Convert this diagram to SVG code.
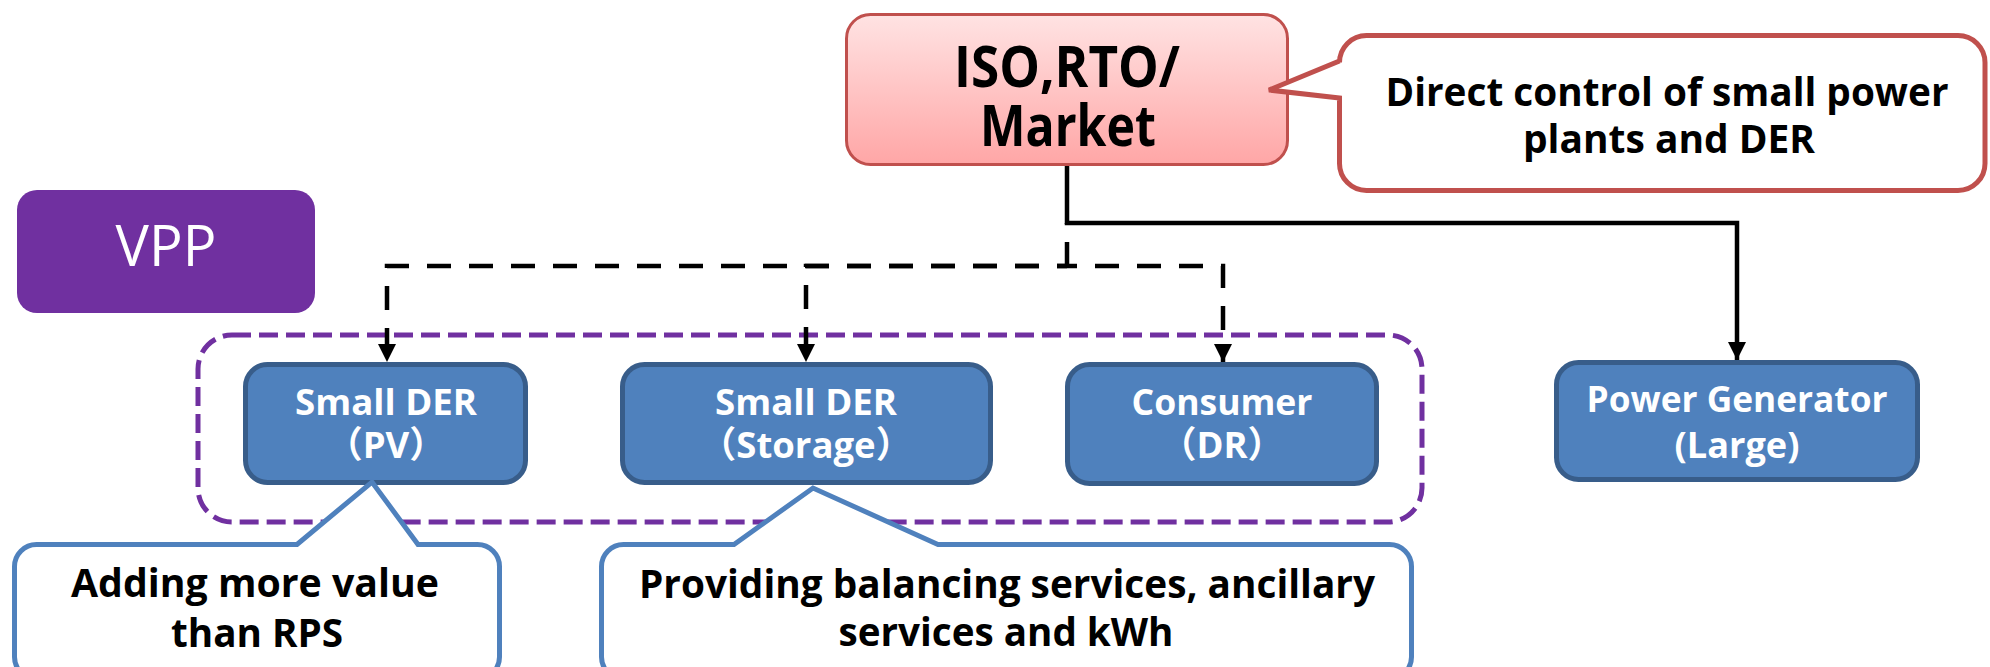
<svg xmlns="http://www.w3.org/2000/svg" width="1990" height="667" viewBox="0 0 1990 667">
  <defs>
    <linearGradient id="pinkFill" x1="0" y1="0" x2="0" y2="1">
      <stop offset="0" stop-color="#FFE3E3"/>
      <stop offset="1" stop-color="#FFA6A6"/>
    </linearGradient>
    <marker id="arrow" markerUnits="userSpaceOnUse" markerWidth="18" markerHeight="18" refX="16" refY="8" orient="auto" viewBox="0 0 16 16">
      <path d="M0,0 L16,8 L0,16 Z" fill="#000"/>
    </marker>
    <style>
      .node { fill: #4F81BD; stroke: #385D8A; stroke-width: 5; }
      .nodeText { font-family: "Open Sans", "Noto Sans", "Noto Sans CJK KR", sans-serif; font-weight: 700; font-size: 36.5px; fill: #FFFFFF; text-anchor: middle; }
      .calloutText { font-family: "Open Sans", "Noto Sans", "Noto Sans CJK KR", sans-serif; font-weight: 700; font-size: 39px; fill: #000000; text-anchor: middle; }
      .isoText { font-family: "Open Sans", "Noto Sans", sans-serif; font-weight: 700; font-size: 58px; fill: #000000; text-anchor: middle; }
      .blueCallout { fill: #FFFFFF; stroke: #4F81BD; stroke-width: 5; stroke-linejoin: miter; }
      .redCallout { fill: #FFFFFF; stroke: #C0504D; stroke-width: 5; stroke-linejoin: miter; }
      .solid { fill: none; stroke: #000; stroke-width: 4.5; }
      .dashed { fill: none; stroke: #000; stroke-width: 4.5; stroke-dasharray: 24 18; stroke-dashoffset: 14; }
    </style>
  </defs>

  <rect width="1990" height="667" fill="#FFFFFF"/>

  <!-- VPP label -->
  <g id="vpp">
    <rect x="17" y="190" width="298" height="123" rx="20" fill="#7030A0"/>
    <text x="166" y="266" font-family="'Open Sans', 'Noto Sans', sans-serif" font-size="56" fill="#FFFFFF" text-anchor="middle">VPP</text>
  </g>

  <!-- dashed boundary around the VPP resources -->
  <g id="vpp-group">
    <rect x="198" y="335" width="1224" height="187" rx="34" fill="none" stroke="#7030A0" stroke-width="5" stroke-dasharray="19 8"/>
  </g>

  <!-- connectors -->
  <g id="connectors">
    <path class="solid" d="M1067,166 V223 H1737 V360" marker-end="url(#arrow)"/>
    <path class="dashed" d="M1067,266 V223" style="stroke-dashoffset:0"/>
    <path class="dashed" d="M1067,266 H387 V362" marker-end="url(#arrow)"/>
    <path class="dashed" d="M1067,266 H806 V362" marker-end="url(#arrow)"/>
    <path class="dashed" d="M1067,266 H1223 V362" marker-end="url(#arrow)"/>
  </g>

  <!-- ISO / RTO / market -->
  <g id="iso-market">
    <rect x="846.5" y="14.5" width="441" height="150" rx="24" fill="url(#pinkFill)" stroke="#C0504D" stroke-width="3"/>
    <text class="isoText" x="1067" y="87" textLength="226" lengthAdjust="spacingAndGlyphs">ISO,RTO/</text>
    <text class="isoText" x="1068" y="146" textLength="176" lengthAdjust="spacingAndGlyphs">Market</text>
  </g>

  <!-- resource nodes -->
  <g id="der-pv">
    <rect class="node" x="245.5" y="364.5" width="280" height="118" rx="22"/>
    <text class="nodeText" x="386" y="415" textLength="182" lengthAdjust="spacingAndGlyphs">Small DER</text>
    <text class="nodeText" x="386" y="458">（PV）</text>
  </g>

  <g id="der-storage">
    <rect class="node" x="622.5" y="364.5" width="368" height="118" rx="22"/>
    <text class="nodeText" x="806" y="415" textLength="182" lengthAdjust="spacingAndGlyphs">Small DER</text>
    <text class="nodeText" x="806" y="458">（Storage）</text>
  </g>

  <g id="consumer-dr">
    <rect class="node" x="1067.5" y="364.5" width="309" height="119" rx="22"/>
    <text class="nodeText" x="1222" y="415" textLength="181" lengthAdjust="spacingAndGlyphs">Consumer</text>
    <text class="nodeText" x="1222" y="458">（DR）</text>
  </g>

  <g id="power-generator">
    <rect class="node" x="1556.5" y="362.5" width="361" height="117" rx="22"/>
    <text class="nodeText" x="1737" y="412" textLength="301" lengthAdjust="spacingAndGlyphs">Power Generator</text>
    <text class="nodeText" x="1737" y="458" textLength="125" lengthAdjust="spacingAndGlyphs">(Large)</text>
  </g>

  <!-- callouts -->
  <g id="callout-direct-control">
    <path class="redCallout" d="M1366.5,35.5 H1958 A27,27 0 0 1 1985,62.5 V163.5 A27,27 0 0 1 1958,190.5 H1366.5 A27,27 0 0 1 1339.5,163.5 V98 L1269,90 L1339.5,61 V62.5 A27,27 0 0 1 1366.5,35.5 Z"/>
    <text class="calloutText" x="1667" y="106" textLength="563" lengthAdjust="spacingAndGlyphs">Direct control of small power</text>
    <text class="calloutText" x="1669" y="153" textLength="292" lengthAdjust="spacingAndGlyphs">plants and DER</text>
  </g>

  <g id="callout-pv">
    <path class="blueCallout" d="M36.5,544.5 H297 L372,482 L418,544.5 H477.5 A22,22 0 0 1 499.5,566.5 V657 A22,22 0 0 1 477.5,679 H36.5 A22,22 0 0 1 14.5,657 V566.5 A22,22 0 0 1 36.5,544.5 Z"/>
    <text class="calloutText" x="255" y="597" textLength="368" lengthAdjust="spacingAndGlyphs">Adding more value</text>
    <text class="calloutText" x="257" y="647" textLength="172" lengthAdjust="spacingAndGlyphs">than RPS</text>
  </g>

  <g id="callout-storage">
    <path class="blueCallout" d="M623.5,544.5 H734 L813,488 L938,544.5 H1389.5 A22,22 0 0 1 1411.5,566.5 V657 A22,22 0 0 1 1389.5,679 H623.5 A22,22 0 0 1 601.5,657 V566.5 A22,22 0 0 1 623.5,544.5 Z"/>
    <text class="calloutText" x="1007" y="598" textLength="736" lengthAdjust="spacingAndGlyphs">Providing balancing services, ancillary</text>
    <text class="calloutText" x="1006" y="646" textLength="335" lengthAdjust="spacingAndGlyphs">services and kWh</text>
  </g>
</svg>
